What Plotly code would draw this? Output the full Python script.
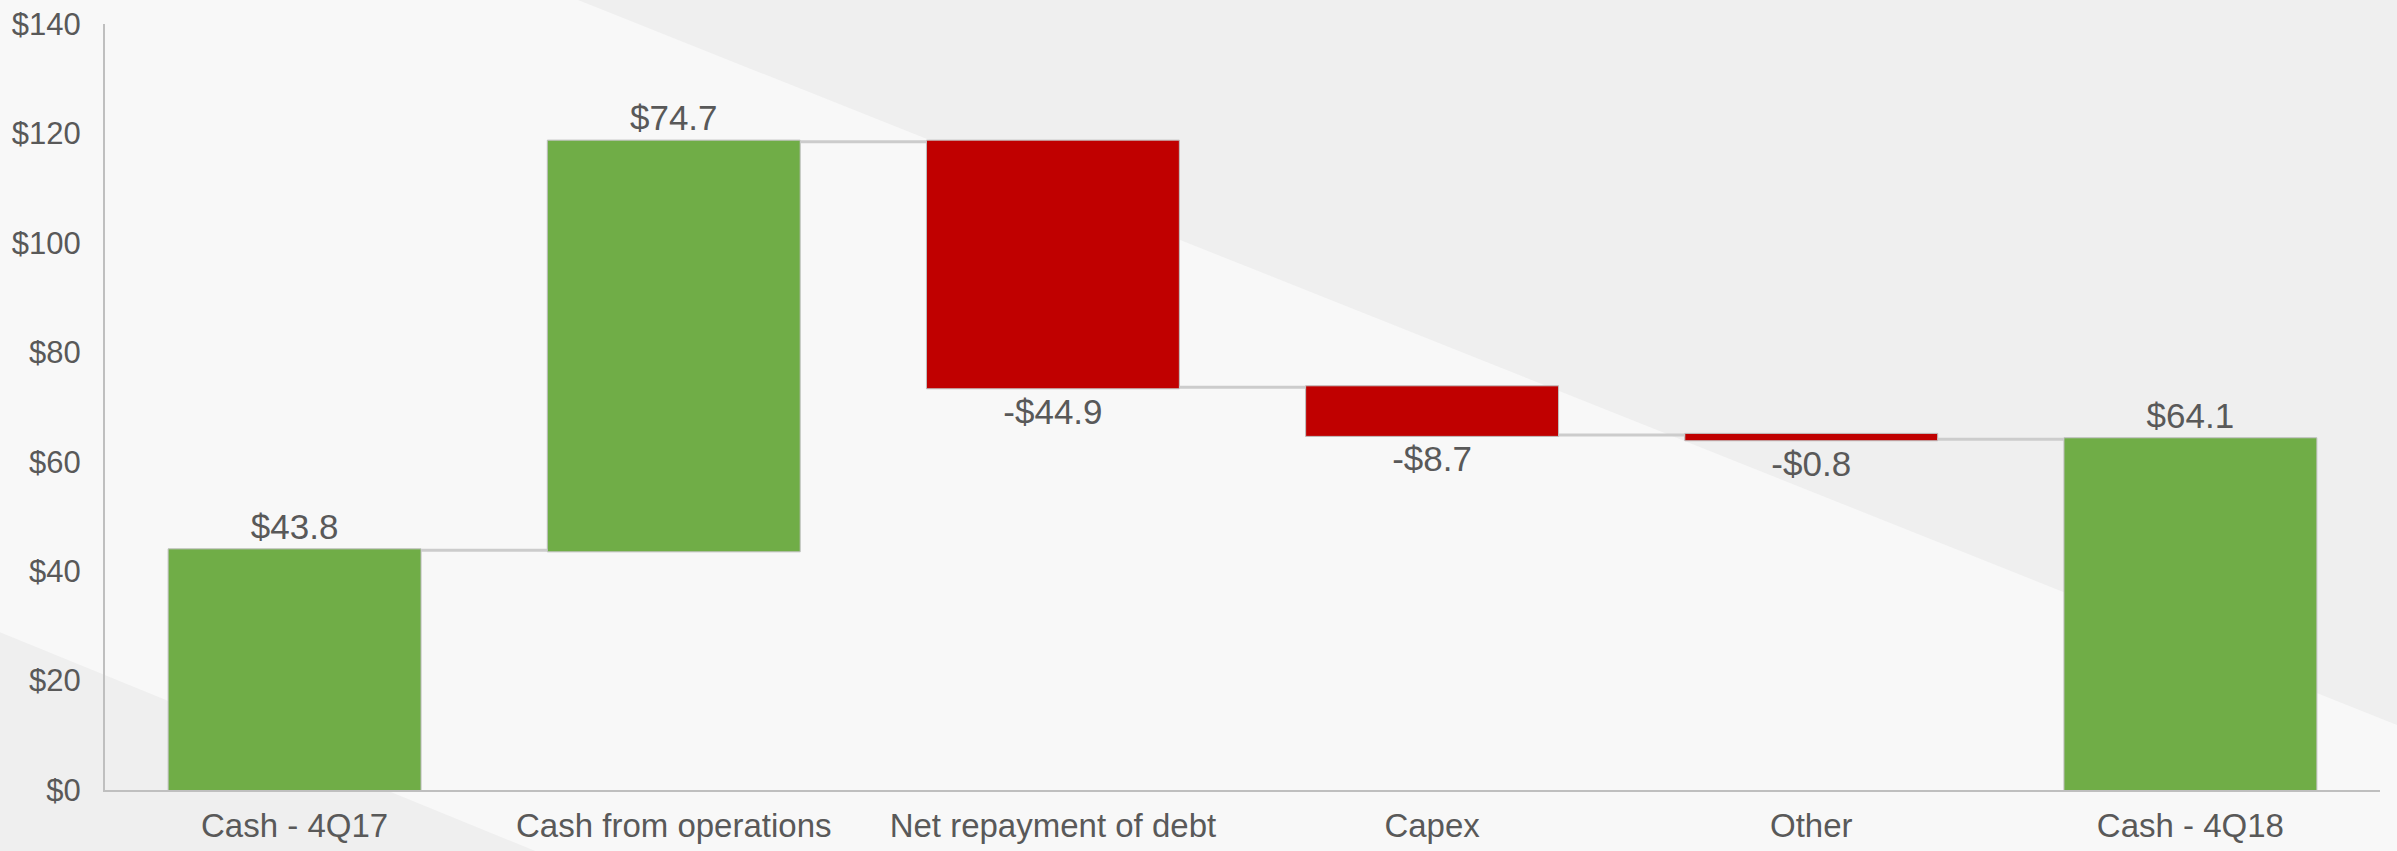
import plotly.graph_objects as go

categories = ["Cash - 4Q17", "Cash from operations", "Net repayment of debt", "Capex", "Other", "Cash - 4Q18"]
values = [43.8, 74.7, -44.9, -8.7, -0.8, 64.1]
measures = ["absolute", "relative", "relative", "relative", "relative", "total"]
labels = ["$43.8", "$74.7", "-$44.9", "-$8.7", "-$0.8", "$64.1"]
y_ticks = [0, 20, 40, 60, 80, 100, 120, 140]
y_ticklabels = ["$0", "$20", "$40", "$60", "$80", "$100", "$120", "$140"]

W, H = 2397, 851
L, R, T, B = 105, 17, 24, 61
PW, PH = W - L - R, H - T - B

def px(x):
    return (x - L) / PW

def py(y):
    return (H - B - y) / PH

GREEN = "#70ad47"
RED = "#c00000"
FONT = "Arial, Liberation Sans, sans-serif"
TXT = "#595959"

fig = go.Figure(go.Waterfall(
    x=categories,
    y=values,
    measure=measures,
    text=labels,
    textposition="outside",
    textfont=dict(family=FONT, size=35, color=TXT),
    increasing=dict(marker=dict(color=GREEN, line=dict(color="#bfbfbf", width=1))),
    decreasing=dict(marker=dict(color=RED, line=dict(color="#bfbfbf", width=1))),
    totals=dict(marker=dict(color=GREEN, line=dict(color="#bfbfbf", width=1))),
    connector=dict(line=dict(color="#cccccc", width=3)),
    cliponaxis=False,
))

# diagonal background bands (slope ~0.4)
s = 725 / (W - 578)
shapes = [
    dict(type="path", xref="paper", yref="paper", layer="below",
         path=(f"M {px(578 - 20 / s)} {py(-20)} L {px(W + 20)} {py(-20)} "
               f"L {px(W + 20)} {py(725 + 20 * s)} Z"),
         fillcolor="#efefef", line=dict(width=0)),
    dict(type="path", xref="paper", yref="paper", layer="below",
         path=(f"M {px(-20)} {py(632 - 20 * s)} L {px(-20)} {py(H + 20)} "
               f"L {px(534 + 20 / s)} {py(H + 20)} Z"),
         fillcolor="#efefef", line=dict(width=0)),
]

fig.update_layout(
    width=W, height=H,
    margin=dict(l=L, r=R, t=T, b=B, autoexpand=False),
    paper_bgcolor="#f8f8f8",
    plot_bgcolor="rgba(0,0,0,0)",
    showlegend=False,
    waterfallgap=0.333,
    shapes=shapes,
    font=dict(family=FONT, color=TXT),
    xaxis=dict(showline=True, linecolor="#bfbfbf", linewidth=2, showgrid=False,
               automargin=False,
               tickfont=dict(family=FONT, size=33, color=TXT), ticklabelstandoff=5),
    yaxis=dict(range=[0, 140], tickvals=y_ticks, ticktext=y_ticklabels,
               showline=True, linecolor="#bfbfbf", linewidth=2, showgrid=False,
               zeroline=False, automargin=False,
               tickfont=dict(family=FONT, size=31, color=TXT),
               ticklabelstandoff=16),
)

fig.write_html("out.html")
